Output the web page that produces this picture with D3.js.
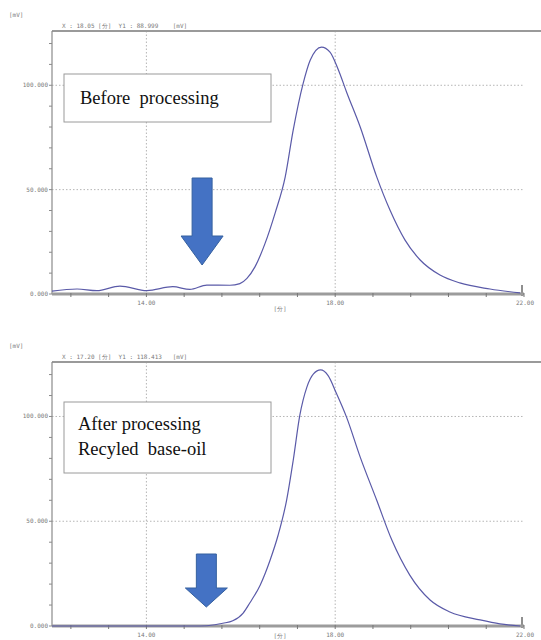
<!DOCTYPE html>
<html>
<head>
<meta charset="utf-8">
<script src="https://cdn.jsdelivr.net/npm/d3@7"></script>
<style>
  html, body { margin: 0; padding: 0; background: #fff; }
  svg { display: block; }
</style>
</head>
<body>
<svg id="chart" width="541" height="640"></svg>
<script>
// Retention time (min) and detector signal (mV) for the two chromatograms
const beforeTime = [12.00, 12.53, 12.95, 13.44, 14.01, 14.56, 14.92, 15.28, 15.77, 15.98, 16.13, 16.30, 16.51, 16.73, 16.94, 17.11, 17.32, 17.47, 17.71, 17.89, 18.07, 18.24, 18.53, 18.88, 19.16, 19.48, 19.80, 20.22, 20.64, 21.28, 21.92];
const beforeSignal = [1.4, 2.4, 1.6, 3.8, 1.6, 3.5, 2.2, 4.3, 4.2, 5.0, 7.5, 13.0, 24.0, 39.0, 56.0, 78.5, 100.8, 112.0, 118.3, 115.9, 107.2, 96.8, 80.0, 56.1, 40.2, 25.8, 16.3, 9.1, 5.3, 2.4, 0.5];

const afterTime = [12.00, 14.08, 15.14, 15.45, 15.62, 15.83, 16.05, 16.19, 16.41, 16.62, 16.79, 16.97, 17.11, 17.25, 17.40, 17.54, 17.69, 17.85, 18.03, 18.24, 18.53, 18.88, 19.20, 19.58, 20.01, 20.43, 21.07, 21.49, 21.92];
const afterSignal = [0, 0, 0, 0.6, 1.3, 2.5, 6.2, 11.0, 19.5, 31.4, 43.3, 60.0, 79.0, 100.5, 114.0, 120.3, 122.2, 119.5, 110.8, 99.7, 80.6, 60.0, 41.0, 24.3, 12.4, 6.7, 2.9, 1.0, 0];

// Axis ticks and annotation text
const xTickValues = [14, 18, 22];
const xTickLabels = ["14.00", "18.00", "22.00"];
const yTickValues = [0, 50, 100];
const yTickLabels = ["0.000", "50.000", "100.000"];
const cursorReadouts = ["X : 18.05 [分]  Y1 : 88.999    [mV]", "X : 17.20 [分]  Y1 : 118.413   [mV]"];
const panelNotes = [["Before  processing"], ["After processing", "Recyled  base-oil"]];
const arrowTimes = [15.18, 15.27];

const svg = d3.select("#chart");
const x = d3.scaleLinear().domain([12, 22]).range([52, 524]);
const minorX = d3.range(0, 13).map(i => 12.4 + i * 0.8).filter(v => v <= 22.01);
const minorY = d3.range(0, 130, 10);

const axisColor = "#8a8a8a";
const textColor = "#7a7a7a";
const monoFont = "'DejaVu Sans Mono', 'Liberation Mono', monospace";

function drawPanel(cfg) {
  const y = d3.scaleLinear().domain([0, 126]).range([cfg.bottom, cfg.top]);
  const g = svg.append("g");

  // unit label and cursor readout
  g.append("text").attr("x", 9).attr("y", cfg.top - 14)
    .attr("font-family", monoFont).attr("font-size", 6).attr("fill", textColor).text("[mV]");
  g.append("text").attr("x", 62).attr("y", cfg.top - 3)
    .attr("font-family", monoFont).attr("font-size", 6).attr("fill", textColor)
    .attr("xml:space", "preserve").style("white-space", "pre").text(cfg.readout);

  // dotted grid
  g.selectAll(".hg").data(yTickValues.slice(1)).join("line")
    .attr("x1", x(12)).attr("x2", x(22))
    .attr("y1", d => y(d)).attr("y2", d => y(d))
    .attr("stroke", "#b5b5b5").attr("stroke-width", 1).attr("stroke-dasharray", "1.5,2");
  g.selectAll(".vg").data(xTickValues.slice(0, 2)).join("line")
    .attr("x1", d => x(d)).attr("x2", d => x(d))
    .attr("y1", cfg.top).attr("y2", cfg.bottom)
    .attr("stroke", "#b5b5b5").attr("stroke-width", 1).attr("stroke-dasharray", "1.5,2");

  // frame: top border, left axis, short right edge mark
  g.append("line").attr("x1", x(12)).attr("x2", 541).attr("y1", cfg.top).attr("y2", cfg.top)
    .attr("stroke", "#9a9a9a").attr("stroke-width", 2);
  g.append("line").attr("x1", x(12)).attr("x2", x(12)).attr("y1", cfg.top).attr("y2", cfg.bottom)
    .attr("stroke", axisColor).attr("stroke-width", 1.2);
  g.append("line").attr("x1", x(22) - 2).attr("x2", x(22) - 2).attr("y1", cfg.bottom - 9).attr("y2", cfg.bottom + 2)
    .attr("stroke", "#6a6a6a").attr("stroke-width", 1.5);

  // y ticks
  g.selectAll(".ym").data(minorY).join("line")
    .attr("x1", x(12) - 3).attr("x2", x(12))
    .attr("y1", d => y(d)).attr("y2", d => y(d))
    .attr("stroke", axisColor).attr("stroke-width", 1);
  g.selectAll(".yl").data(yTickValues).join("text")
    .attr("x", x(12) - 4).attr("y", d => y(d) + 2)
    .attr("text-anchor", "end").attr("font-family", monoFont).attr("font-size", 6)
    .attr("fill", textColor).text((d, i) => yTickLabels[i]);

  // x axis band with minor ticks
  g.append("line").attr("x1", x(12)).attr("x2", x(22)).attr("y1", cfg.bottom).attr("y2", cfg.bottom)
    .attr("stroke", "#9c9c9c").attr("stroke-width", 3);
  g.selectAll(".xm").data(minorX).join("line")
    .attr("x1", d => x(d)).attr("x2", d => x(d))
    .attr("y1", cfg.bottom - 1).attr("y2", cfg.bottom + 3)
    .attr("stroke", "#777").attr("stroke-width", 1);
  g.selectAll(".xl").data(xTickValues).join("text")
    .attr("x", (d, i) => i === 2 ? x(d) - 8 : x(d)).attr("y", cfg.bottom + 11)
    .attr("text-anchor", (d, i) => i === 2 ? "start" : "middle")
    .attr("font-family", monoFont).attr("font-size", 6)
    .attr("fill", textColor).text((d, i) => xTickLabels[i]);
  g.append("text").attr("x", 280).attr("y", Math.min(cfg.bottom + 17, 638))
    .attr("text-anchor", "middle").attr("font-family", monoFont).attr("font-size", 6)
    .attr("fill", textColor).text("[分]");

  // chromatogram trace
  const pts = cfg.time.map((t, i) => [t, cfg.signal[i]]);
  g.append("path").datum(pts)
    .attr("fill", "none").attr("stroke", "#5a5aa8").attr("stroke-width", 1.2)
    .attr("d", d3.line().x(d => x(d[0])).y(d => y(d[1])).curve(d3.curveMonotoneX));

  // note box
  const bx = 64, by = cfg.boxTop, bw = 207, bh = cfg.boxH;
  g.append("rect").attr("x", bx).attr("y", by).attr("width", bw).attr("height", bh)
    .attr("fill", "#fff").attr("stroke", "#9a9a9a").attr("stroke-width", 1);
  g.selectAll(".note").data(cfg.note).join("text")
    .attr("x", cfg.textX).attr("y", (d, i) => by + cfg.firstBase + i * 25)
    .attr("font-family", "'Liberation Serif', 'Times New Roman', serif")
    .attr("font-size", 18.5).attr("fill", "#111")
    .attr("xml:space", "preserve").style("white-space", "pre").text(d => d);

  // downward block arrow
  const cx = x(cfg.arrowTime);
  const aTop = cfg.arrowTop, neck = cfg.arrowNeck, tip = cfg.arrowTip;
  const arrow = [
    [cx - 10, aTop], [cx + 10, aTop], [cx + 10, neck], [cx + 21, neck],
    [cx, tip], [cx - 21, neck], [cx - 10, neck]
  ];
  g.append("path").attr("d", d3.line()(arrow) + "Z")
    .attr("fill", "#4472c4").attr("stroke", "#35609f").attr("stroke-width", 1);
}

drawPanel({
  top: 31, bottom: 294, readout: cursorReadouts[0],
  time: beforeTime, signal: beforeSignal, note: panelNotes[0],
  boxTop: 74, boxH: 48, textX: 80, firstBase: 30,
  arrowTime: arrowTimes[0], arrowTop: 178, arrowNeck: 236, arrowTip: 265
});
drawPanel({
  top: 362, bottom: 626, readout: cursorReadouts[1],
  time: afterTime, signal: afterSignal, note: panelNotes[1],
  boxTop: 402, boxH: 71, textX: 78, firstBase: 28,
  arrowTime: arrowTimes[1], arrowTop: 554, arrowNeck: 588, arrowTip: 607
});
</script>
</body>
</html>
